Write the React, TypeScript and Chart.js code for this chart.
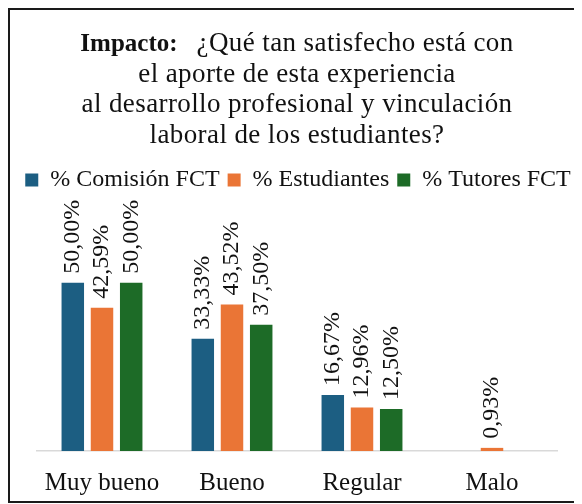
import React, { useEffect, useRef } from "react";
import { Chart, registerables } from "chart.js";

Chart.register(...registerables);

const categories = ["Muy bueno", "Bueno", "Regular", "Malo"];
const seriesLabels = ["% Comisión FCT", "% Estudiantes", "% Tutores FCT"];
const comision = [50.0, 33.33, 16.67, 0];
const estudiantes = [42.59, 43.52, 12.96, 0.93];
const tutores = [50.0, 37.5, 12.5, 0];
const seriesColors = ["#1C5E82", "#EA7536", "#1D6B27"];
const titleBold = "Impacto:";
const titleLines = [
  "¿Qué tan satisfecho está con",
  "el aporte de esta experiencia",
  "al desarrollo profesional y vinculación",
  "laboral de los estudiantes?",
];

const SERIF = '"Liberation Serif", "Times New Roman", serif';

const titlePlugin = {
  id: "customTitle",
  afterDraw(chart: any) {
    const ctx = chart.ctx as CanvasRenderingContext2D;
    ctx.save();
    ctx.fillStyle = "#111";
    ctx.textBaseline = "alphabetic";
    ctx.textAlign = "left";
    const cx = 287;
    const baselines = [41, 71.5, 102, 132.5];
    const gap = 19;
    (ctx as any).letterSpacing = "0px";
    ctx.font = `bold 25px ${SERIF}`;
    const wb = ctx.measureText(titleBold).width;
    ctx.font = `27px ${SERIF}`;
    (ctx as any).letterSpacing = "0.4px";
    const w0 = ctx.measureText(titleLines[0]).width;
    const total = wb + gap + w0;
    let x = cx - total / 2;
    (ctx as any).letterSpacing = "0px";
    ctx.font = `bold 25px ${SERIF}`;
    ctx.fillText(titleBold, x, baselines[0]);
    ctx.font = `27px ${SERIF}`;
    (ctx as any).letterSpacing = "0.4px";
    ctx.fillText(titleLines[0], x + wb + gap, baselines[0]);
    for (let i = 1; i < titleLines.length; i++) {
      const w = ctx.measureText(titleLines[i]).width;
      ctx.fillText(titleLines[i], cx - w / 2, baselines[i]);
    }
    (ctx as any).letterSpacing = "0px";
    ctx.restore();
  },
};

const barLabelPlugin = {
  id: "barLabels",
  afterDatasetsDraw(chart: any) {
    const ctx = chart.ctx as CanvasRenderingContext2D;
    chart.data.datasets.forEach((ds: any, di: number) => {
      const meta = chart.getDatasetMeta(di);
      meta.data.forEach((el: any, i: number) => {
        const v = ds.data[i];
        if (!v) return;
        const { x, y } = el.getProps(["x", "y"], true);
        ctx.save();
        ctx.translate(x, y - 9);
        ctx.rotate(-Math.PI / 2);
        ctx.font = `24px ${SERIF}`;
        ctx.fillStyle = "#111";
        ctx.textAlign = "left";
        ctx.textBaseline = "middle";
        ctx.fillText(v.toFixed(2).replace(".", ",") + "%", 0, 0);
        ctx.restore();
      });
    });
  },
};

export default function App() {
  const canvasRef = useRef<HTMLCanvasElement | null>(null);

  useEffect(() => {
    if (!canvasRef.current) return;
    const chart = new Chart(canvasRef.current, {
      type: "bar",
      data: {
        labels: categories,
        datasets: [comision, estudiantes, tutores].map((d, i) => ({
          label: seriesLabels[i],
          data: d,
          backgroundColor: seriesColors[i],
          borderWidth: 0,
          categoryPercentage: 0.674,
          barPercentage: 0.77,
        })),
      },
      options: {
        responsive: false,
        maintainAspectRatio: false,
        animation: false,
        devicePixelRatio: 1,
        layout: { padding: { top: 150, left: 0, right: 0, bottom: -14 } },
        plugins: {
          title: { display: false },
          tooltip: { enabled: false },
          legend: {
            display: true,
            position: "top",
            labels: {
              font: { family: SERIF, size: 24 },
              color: "#111",
              boxWidth: 13,
              boxHeight: 13,
              padding: 8,
            },
          },
        },
        scales: {
          x: {
            grid: { display: false, drawTicks: false },
            border: { display: true, color: "#d9d9d9", width: 1.5 },
            ticks: {
              font: { family: SERIF, size: 25 },
              color: "#111",
              padding: 17,
              maxRotation: 0,
            },
          },
          y: {
            display: true,
            min: 0,
            max: 74,
            grid: { display: false, drawTicks: false },
            border: { display: false },
            ticks: { display: false },
            afterFit: (s: any) => {
              s.width = 27;
            },
          },
          y2: {
            type: "linear",
            position: "right",
            display: true,
            grid: { display: false, drawTicks: false },
            border: { display: false },
            ticks: { display: false },
            afterFit: (s: any) => {
              s.width = 29;
            },
          },
        },
      },
      plugins: [titlePlugin, barLabelPlugin],
    } as any);
    return () => chart.destroy();
  }, []);

  return (
    <div style={{ position: "relative", width: 574, height: 495, overflow: "hidden" }}>
      <div
        style={{
          position: "absolute",
          left: 0,
          top: 0,
          width: 600,
          height: 495,
          boxSizing: "border-box",
          border: "2px solid #1a1a1a",
          background: "#fff",
        }}
      >
        <canvas
          ref={canvasRef}
          width={576}
          height={491}
          style={{ position: "absolute", left: 0, top: 0, width: 576, height: 491 }}
        />
      </div>
    </div>
  );
}
